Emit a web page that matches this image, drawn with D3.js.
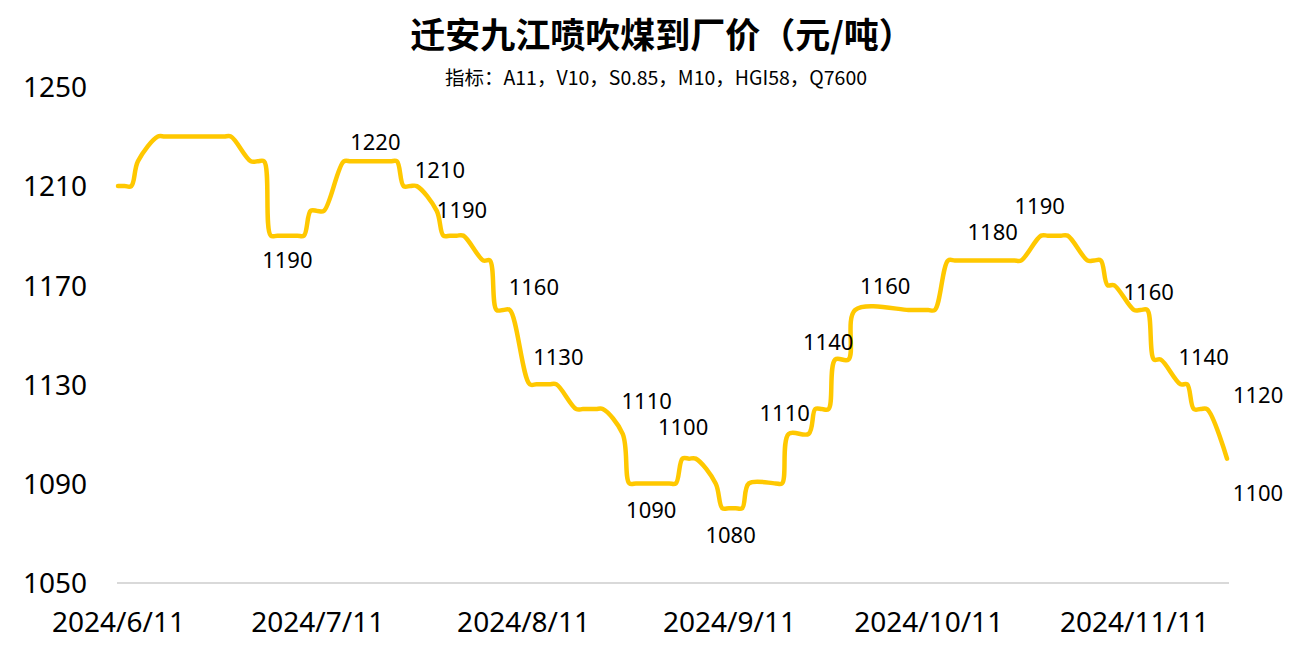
<!DOCTYPE html>
<html>
<head>
<meta charset="utf-8">
<script src="https://cdn.jsdelivr.net/npm/d3@7"></script>
<style>
  html, body { margin: 0; padding: 0; background: #fff; }
  svg { display: block; }
</style>
</head>
<body>
<svg id="chart" width="1311" height="661"></svg>
<script>
// ---------- DATA ----------
const titleText = "迁安九江喷吹煤到厂价（元/吨）";
const subtitleText = "指标：A11，V10，S0.85，M10，HGI58，Q7600";

const dates = [
  "2024-06-11","2024-06-12","2024-06-13","2024-06-14","2024-06-17","2024-06-18","2024-06-19","2024-06-20","2024-06-21",
  "2024-06-24","2024-06-25","2024-06-26","2024-06-27","2024-06-28",
  "2024-07-01","2024-07-02","2024-07-03","2024-07-04","2024-07-05","2024-07-08","2024-07-09","2024-07-10","2024-07-11","2024-07-12",
  "2024-07-15","2024-07-16","2024-07-17","2024-07-18","2024-07-19","2024-07-22","2024-07-23","2024-07-24","2024-07-25","2024-07-26",
  "2024-07-29","2024-07-30","2024-07-31",
  "2024-08-01","2024-08-02","2024-08-05","2024-08-06","2024-08-07","2024-08-08","2024-08-09","2024-08-12","2024-08-13","2024-08-14",
  "2024-08-15","2024-08-16","2024-08-19","2024-08-20","2024-08-21","2024-08-22","2024-08-23","2024-08-26","2024-08-27","2024-08-28",
  "2024-08-29","2024-08-30",
  "2024-09-02","2024-09-03","2024-09-04","2024-09-05","2024-09-06","2024-09-09","2024-09-10","2024-09-11","2024-09-12","2024-09-13",
  "2024-09-14","2024-09-18","2024-09-19","2024-09-20","2024-09-23","2024-09-24","2024-09-25","2024-09-26","2024-09-27","2024-09-29",
  "2024-09-30",
  "2024-10-08","2024-10-09","2024-10-10","2024-10-11","2024-10-12","2024-10-14","2024-10-15","2024-10-16","2024-10-17","2024-10-18",
  "2024-10-21","2024-10-22","2024-10-23","2024-10-24","2024-10-25","2024-10-28","2024-10-29","2024-10-30","2024-10-31",
  "2024-11-01","2024-11-04","2024-11-05","2024-11-06","2024-11-07","2024-11-08","2024-11-11","2024-11-12","2024-11-13","2024-11-14",
  "2024-11-15","2024-11-18","2024-11-19","2024-11-20","2024-11-21","2024-11-22","2024-11-25"
];
const prices = [
  1210,1210,1210,1220,1230,1230,1230,1230,1230,
  1230,1230,1230,1230,1230,
  1220,1220,1220,1190,1190,1190,1190,1200,1200,1200,
  1220,1220,1220,1220,1220,1220,1220,1210,1210,1210,
  1200,1190,1190,
  1190,1190,1180,1180,1160,1160,1160,1130,1130,1130,
  1130,1130,1120,1120,1120,1120,1120,1110,1090,1090,
  1090,1090,
  1090,1090,1100,1100,1100,1090,1080,1080,1080,1080,
  1090,1090,1090,1110,1110,1120,1120,1120,1140,1140,
  1160,
  1160,1160,1160,1160,1160,1180,1180,1180,1180,1180,
  1180,1180,1180,1180,1180,1190,1190,1190,1190,
  1190,1180,1180,1180,1170,1170,1160,1160,1160,1140,
  1140,1130,1130,1120,1120,1120,1100
];

const yTicks = [1050, 1090, 1130, 1170, 1210, 1250];
const xTickDates = ["2024-06-11","2024-07-11","2024-08-11","2024-09-11","2024-10-11","2024-11-11"];
const xTickLabels = ["2024/6/11","2024/7/11","2024/8/11","2024/9/11","2024/10/11","2024/11/11"];

// points that carry a data label (text = value at that date)
const labelDates = [
  "2024-07-05","2024-07-19","2024-07-26","2024-07-31","2024-08-09","2024-08-13",
  "2024-08-26","2024-09-05","2024-08-30","2024-09-12","2024-09-20","2024-09-27",
  "2024-10-08","2024-10-18","2024-10-29","2024-11-12","2024-11-15","2024-11-22","2024-11-25"
];
// ---------- LAYOUT (label offsets from their points, px) ----------
const labelOffsets = [
  [10, 32], [5, -11], [23, -8], [12, -18], [24, -15], [22, -19],
  [24, -25], [-6, -24], [2, 35], [-5, 35], [-4, -13], [-7, -9.5],
  [-23, -16], [18, -20], [-8, -22], [8, -10], [43, 5], [51, -6], [31, 42]
];

// ---------- CHART ----------
const parse = d3.timeParse("%Y-%m-%d");
const data = dates.map((d, i) => ({ date: parse(d), value: prices[i] }));

const svg = d3.select("#chart");
const x = d3.scaleTime()
  .domain([parse(dates[0]), parse(dates[dates.length - 1])])
  .range([118, 1227]);
const y = d3.scaleLinear().domain([1050, 1250]).range([582.5, 87]);

// title
svg.append("text")
  .attr("x", 662).attr("y", 32)
  .attr("text-anchor", "middle").attr("dominant-baseline", "central")
  .attr("font-family", "'Noto Sans CJK SC', sans-serif")
  .attr("font-weight", "bold").attr("font-size", 35)
  .attr("fill", "#000")
  .text(titleText);

svg.append("text")
  .attr("x", 656).attr("y", 76)
  .attr("text-anchor", "middle").attr("dominant-baseline", "central")
  .attr("font-family", "'Noto Sans CJK SC', sans-serif")
  .attr("font-size", 19.5)
  .attr("fill", "#000")
  .text(subtitleText);

// y axis (labels only)
const yAxis = d3.axisLeft(y).tickValues(yTicks).tickSize(0).tickPadding(0).tickFormat(d3.format("d"));
const gy = svg.append("g").attr("transform", "translate(87,0)").call(yAxis);
gy.select(".domain").remove();
gy.selectAll("text")
  .attr("font-family", "'Noto Sans', sans-serif")
  .attr("font-size", 28)
  .attr("fill", "#000")
  .attr("dy", "0.35em");

// x axis
const xAxis = d3.axisBottom(x)
  .tickValues(xTickDates.map(parse))
  .tickSize(0).tickPadding(0)
  .tickFormat((d, i) => xTickLabels[i]);
const gx = svg.append("g").attr("transform", "translate(0,583)").call(xAxis);
gx.select(".domain")
  .attr("d", "M117,0H1229")
  .attr("stroke", "#d9d9d9").attr("stroke-width", 2);
gx.selectAll("text")
  .attr("font-family", "'Noto Sans', sans-serif")
  .attr("font-size", 28)
  .attr("fill", "#000")
  .attr("y", 49).attr("dy", 0);

// line
const line = d3.line()
  .x(d => x(d.date))
  .y(d => y(d.value))
  .curve(d3.curveCatmullRom.alpha(0.5));

svg.append("path")
  .datum(data)
  .attr("fill", "none")
  .attr("stroke", "#FFC800")
  .attr("stroke-width", 4.5)
  .attr("stroke-linejoin", "round")
  .attr("stroke-linecap", "round")
  .attr("d", line);

// data labels
const byDate = new Map(data.map(d => [+d.date, d]));
const labels = labelDates.map((ds, i) => {
  const p = byDate.get(+parse(ds));
  return { p, dx: labelOffsets[i][0], dy: labelOffsets[i][1] };
});
svg.append("g").selectAll("text")
  .data(labels)
  .join("text")
  .attr("x", d => x(d.p.date) + d.dx)
  .attr("y", d => y(d.p.value) + d.dy)
  .attr("text-anchor", "middle")
  .attr("font-family", "'Noto Sans', sans-serif")
  .attr("font-size", 22)
  .attr("fill", "#000")
  .text(d => d.p.value);
</script>
</body>
</html>
